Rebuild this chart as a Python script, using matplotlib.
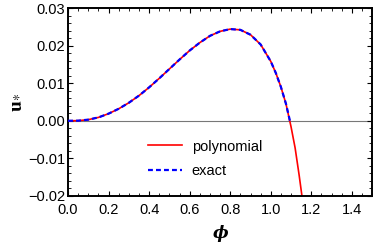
# ground-state profile: polynomial vs exact
import numpy as np
import matplotlib
matplotlib.use("Agg")
import matplotlib.pyplot as plt
from matplotlib.ticker import MultipleLocator, FuncFormatter

plt.rcParams["font.family"] = ["Liberation Sans", "DejaVu Sans"]
plt.rcParams["mathtext.fontset"] = "stix"

# values
phi_poly = [0.0, 0.05, 0.1, 0.15, 0.2, 0.25, 0.3, 0.35, 0.4, 0.45, 0.5,
            0.55, 0.6, 0.65, 0.7, 0.75, 0.8, 0.85, 0.9, 0.95, 1.0, 1.025,
            1.05, 1.075, 1.1, 1.12, 1.14, 1.155]
u_poly = [0.0, 0.00003, 0.0003, 0.0009, 0.0019, 0.0032, 0.0048, 0.0067,
          0.0089, 0.0113, 0.0138, 0.0163, 0.0187, 0.0208, 0.0226, 0.0238,
          0.0244, 0.0242, 0.0229, 0.0203, 0.0158, 0.0127, 0.0090, 0.0045,
          -0.0016, -0.0072, -0.0145, -0.0205]

phi_exact = [0.0, 0.05, 0.1, 0.15, 0.2, 0.25, 0.3, 0.35, 0.4, 0.45, 0.5,
             0.55, 0.6, 0.65, 0.7, 0.75, 0.8, 0.85, 0.9, 0.95, 1.0, 1.025,
             1.05, 1.075, 1.097]
u_exact = [0.0, 0.00003, 0.0003, 0.0009, 0.0019, 0.0032, 0.0048, 0.0067,
           0.0089, 0.0113, 0.0138, 0.0163, 0.0187, 0.0208, 0.0226, 0.0238,
           0.0244, 0.0242, 0.0229, 0.0203, 0.0158, 0.0127, 0.0090, 0.0045,
           -0.0006]


def fmt(digits):
    # unicode minus like the original
    return FuncFormatter(lambda v, _: f"{v:.{digits}f}".replace("-", "\u2212"))


fig = plt.figure(figsize=(3.74, 2.44), dpi=100)
ax = fig.add_axes([0.182, 0.197, 0.813, 0.77])

ax.axhline(0, color="#777777", lw=0.8, zorder=1)
ax.plot(phi_poly, u_poly, color="red", lw=1.2, label="polynomial", zorder=2)
ax.plot(phi_exact, u_exact, color="blue", lw=1.6, ls=(0, (2.2, 1.4)),
        label="exact", zorder=3)

ax.set_xlim(0, 1.5)
ax.set_ylim(-0.02, 0.03)
ax.xaxis.set_major_locator(MultipleLocator(0.2))
ax.xaxis.set_minor_locator(MultipleLocator(0.05))
ax.yaxis.set_major_locator(MultipleLocator(0.01))
ax.yaxis.set_minor_locator(MultipleLocator(0.002))
ax.xaxis.set_major_formatter(fmt(1))
ax.yaxis.set_major_formatter(fmt(2))

ax.tick_params(which="both", direction="in", top=True, right=True,
               labelsize=10.5, colors="black")
ax.tick_params(axis="x", pad=5)
ax.tick_params(axis="y", pad=2)
ax.tick_params(which="major", length=3.5, width=0.8)
ax.tick_params(which="minor", length=2, width=0.6)
for s in ax.spines.values():
    s.set_linewidth(1.4)

ax.set_xlabel("ϕ", fontfamily="DejaVu Serif", fontweight="bold",
              fontstyle="italic", fontsize=12, labelpad=6)
ax.set_ylabel(r"$\mathbf{u}_{*}$", fontsize=14, labelpad=3)

ax.legend(loc="upper left", bbox_to_anchor=(0.22, 0.37), frameon=False,
          fontsize=10.5, handlelength=2.3, handletextpad=0.7,
          labelspacing=0.75)

fig.savefig("out.png", dpi=100)
